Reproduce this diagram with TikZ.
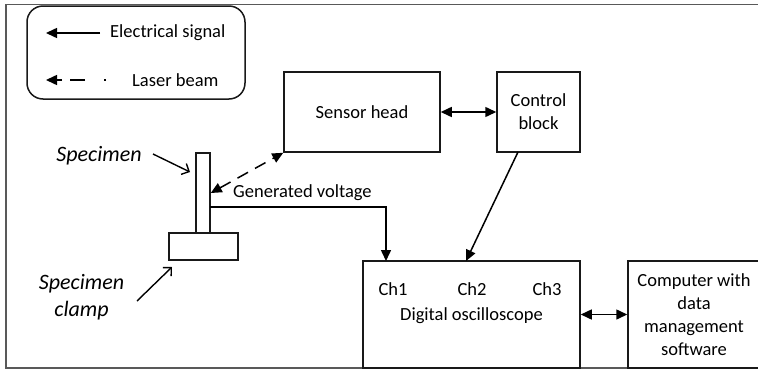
\documentclass[tikz,border=0pt]{standalone}
\usepackage{fontspec}
\setmainfont{Carlito}
\usetikzlibrary{arrows.meta,calc}
\begin{document}
\begin{tikzpicture}[x=1pt,y=-1pt,
  box/.style={draw=black!90, line width=1.5pt, rectangle, inner sep=0pt, align=center, font=\fontsize{18.5}{23}\selectfont},
  lbl/.style={inner sep=0pt, font=\fontsize{18.5}{23}\selectfont, align=center},
  ilbl/.style={lbl, font=\fontsize{22}{27}\selectfont\itshape},
  sig/.style={line width=1.5pt, -{Triangle[length=11pt,width=10pt]}},
  sigboth/.style={line width=1.5pt, {Triangle[length=11pt,width=10pt]}-{Triangle[length=11pt,width=10pt]}},
  laser/.style={sigboth, dash pattern=on 12pt off 8pt},
  pointer/.style={line width=1.4pt, -{Straight Barb[length=6pt,width=12pt]}},
]
\useasboundingbox (0,0) rectangle (758,370);
% outer frame
\draw[line width=1.5pt, draw=black!65] (6,4.5) rectangle (790,368);

% legend
\node[draw=black!90, line width=1.5pt, rounded corners=16pt, minimum width=218pt, minimum height=93pt, inner sep=0pt] (legend) at (136,52.5) {};
\coordinate (l1a) at (100,33);
\coordinate (l1b) at (46,33);
\coordinate (l2a) at (106,80);
\coordinate (l2b) at (46,80);
\draw[sig] (l1a) -- (l1b);
\draw[line width=1.5pt, dash pattern=on 2pt off 19pt on 15pt off 8pt on 20pt, -{Triangle[length=11pt,width=10pt]}] (l2a) -- (l2b);
\node[lbl, anchor=west] (lt1) at (110,33) {Electrical signal};
\node[lbl, anchor=west] (lt2) at (132,80) {Laser beam};

% boxes
\node[box, minimum width=156pt, minimum height=80pt] (sensor) at (362,112) {Sensor head};
\node[box, minimum width=83pt, minimum height=80pt] (control) at (538.5,112) {Control\\block};
\node[box, minimum width=217pt, minimum height=107pt] (osc) at (471.5,314.5) {};
\node[box, minimum width=132pt, minimum height=107pt] (comp) at (694,314.5) {Computer with\\data\\management\\software};
\node[lbl] (ch1) at (393,289) {Ch1};
\node[lbl] (ch2) at (472,289) {Ch2};
\node[lbl] (ch3) at (547,289) {Ch3};
\node[lbl] (osclbl) at (471.5,316) {Digital oscilloscope};

% specimen and clamp
\node[box, minimum width=14pt, minimum height=80pt] (spec) at (203,193) {};
\node[box, minimum width=69pt, minimum height=27pt] (clamp) at (203.5,246.5) {};

% labels
\node[ilbl] (splbl) at (99,156) {Specimen};
\node[ilbl] (cllbl) at (81.5,297.5) {Specimen\\clamp};
\coordinate (sp1) at (153,154);
\coordinate (sp2) at (190,172);
\coordinate (cl1) at (137,301);
\coordinate (cl2) at (172,267);
\draw[pointer] (sp1) -- (sp2);
\draw[pointer] (cl1) -- (cl2);

% connectors
\draw[sigboth] (sensor.east) -- (control.west);
\draw[laser] (spec.east) -- (sensor.south west);
\coordinate (gv) at (210,207);
\coordinate (in1) at (386,261);
\draw[sig] (gv) -| (in1);
\node[lbl, anchor=west] (gvlbl) at (233,193) {Generated voltage};
\coordinate (c2a) at (518,152);
\coordinate (c2b) at (466,261);
\draw[sig] (c2a) -- (c2b);
\draw[sigboth] (osc.east) -- (comp.west);
\end{tikzpicture}
\end{document}
